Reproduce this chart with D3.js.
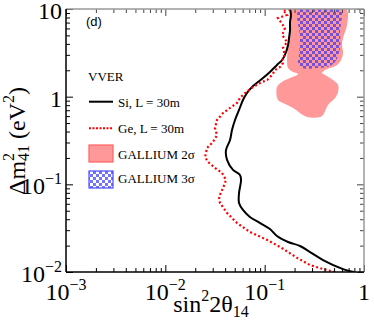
<!DOCTYPE html>
<html>
<head>
<meta charset="utf-8">
<script src="https://cdn.jsdelivr.net/npm/d3@7"></script>
<style>
body{margin:0;background:#fff;}
text{font-family:"Liberation Serif","Times New Roman",serif;}
</style>
</head>
<body>
<div id="chart"></div>
<script>
// Si, L = 30m exclusion curve (sin^2 2theta, dm2)
var siX = [0.79, 0.615, 0.387, 0.286, 0.227, 0.172, 0.133, 0.113, 0.090, 0.071, 0.0605, 0.0552, 0.0552, 0.0578, 0.0564, 0.048, 0.0418, 0.0408, 0.0448, 0.0469, 0.0503, 0.0552, 0.0605, 0.0664, 0.0746, 0.0857, 0.0962, 0.113, 0.133, 0.150, 0.160, 0.172, 0.176, 0.180, 0.180, 0.184, 0.180];
var siY = [0.010, 0.0108, 0.0137, 0.0169, 0.0198, 0.0220, 0.0257, 0.0309, 0.0362, 0.0424, 0.0510, 0.0613, 0.0796, 0.112, 0.128, 0.146, 0.190, 0.246, 0.320, 0.417, 0.542, 0.705, 0.916, 1.10, 1.29, 1.47, 1.63, 1.91, 2.30, 2.62, 2.99, 3.89, 4.67, 5.76, 7.11, 8.55, 10];

// Ge, L = 30m exclusion curve
var geX = [0.511, 0.387, 0.286, 0.212, 0.143, 0.106, 0.0712, 0.0527, 0.0418, 0.0355, 0.0347, 0.0381, 0.0408, 0.0372, 0.0316, 0.0269, 0.0251, 0.0263, 0.0302, 0.0331, 0.0316, 0.0331, 0.0381, 0.0448, 0.0527, 0.0564, 0.0634, 0.0763, 0.094, 0.106, 0.119, 0.127, 0.143, 0.153, 0.150, 0.160, 0.153, 0.168, 0.150, 0.160, 0.136, 0.168, 0.153, 0.180];
var geY = [0.010, 0.0108, 0.0120, 0.0145, 0.0193, 0.0232, 0.0286, 0.0362, 0.0471, 0.0613, 0.0717, 0.0908, 0.112, 0.135, 0.154, 0.180, 0.205, 0.260, 0.304, 0.365, 0.439, 0.542, 0.651, 0.743, 0.847, 0.966, 1.10, 1.29, 1.47, 1.55, 1.77, 2.01, 2.18, 2.42, 2.76, 2.99, 3.59, 4.20, 5.05, 6.07, 7.89, 8.55, 9.74, 10];

// GALLIUM allowed regions (outline points)
var ga2X = [0.183, 0.180, 0.172, 0.168, 0.172, 0.193, 0.217, 0.180, 0.1495, 0.133, 0.136, 0.153, 0.193, 0.267, 0.361, 0.387, 0.434, 0.511, 0.548, 0.548, 0.488, 0.405, 0.378, 0.405, 0.535, 0.601, 0.615, 0.601, 0.615, 0.674, 0.659];
var ga2Y = [10, 7.89, 3.89, 2.49, 2.12, 1.91, 1.81, 1.63, 1.47, 1.29, 0.916, 0.847, 0.743, 0.586, 0.586, 0.618, 0.804, 0.966, 1.13, 1.36, 1.55, 1.77, 1.86, 2.01, 2.30, 2.76, 3.23, 3.89, 4.67, 6.57, 10];
var ga3X = [0.222, 0.227, 0.222, 0.217, 0.238, 0.337, 0.424, 0.511, 0.574, 0.574, 0.574];
var ga3Y = [10, 4.67, 2.99, 2.42, 2.12, 2.12, 2.18, 2.49, 3.59, 5.47, 10];

var xTicks = [1e-3, 1e-2, 1e-1, 1];
var xTickBase = ["10", "10", "10", "1"];
var xTickExp = ["\u22123", "\u22122", "\u22121", ""];
var yTicks = [1e-2, 1e-1, 1, 10];
var yTickBase = ["10", "10", "1", "10"];
var yTickExp = ["\u22122", "\u22121", "", ""];

var legendLabels = ["Si, L = 30m", "Ge, L = 30m", "GALLIUM 2\u03c3", "GALLIUM 3\u03c3"];

var svgWidth = 374;
var svgHeight = 321;
var margin = {top: 9, right: 10, bottom: 49, left: 66};
var width = svgWidth - margin.left - margin.right;
var height = svgHeight - margin.top - margin.bottom;

var svg = d3.select("#chart").append("svg")
    .attr("width", svgWidth)
    .attr("height", svgHeight);

var defs = svg.append("defs");
defs.append("clipPath").attr("id", "clip")
    .append("rect").attr("width", width).attr("height", height);
var pat = defs.append("pattern").attr("id", "checks")
    .attr("patternUnits", "userSpaceOnUse")
    .attr("width", 6).attr("height", 6);
pat.append("rect").attr("width", 3).attr("height", 3).attr("fill", "#2a2aff").attr("fill-opacity", 0.65);
pat.append("rect").attr("x", 3).attr("y", 3).attr("width", 3).attr("height", 3).attr("fill", "#2a2aff").attr("fill-opacity", 0.65);

var chart = svg.append("g")
    .attr("transform", "translate(" + margin.left + "," + margin.top + ")");

var x = d3.scaleLog().domain([1e-3, 1]).range([0, width]);
var y = d3.scaleLog().domain([1e-2, 10]).range([height, 0]);

var plot = chart.append("g").attr("clip-path", "url(#clip)");

var ga2 = d3.zip(ga2X, ga2Y);
var ga3 = d3.zip(ga3X, ga3Y);

plot.append("path")
    .attr("d", d3.line().x(d => x(d[0])).y(d => y(d[1])).curve(d3.curveCatmullRomClosed)(ga2))
    .attr("fill", "#ff9999");
plot.append("path")
    .attr("d", d3.line().x(d => x(d[0])).y(d => y(d[1])).curve(d3.curveCatmullRomClosed.alpha(0.5))(ga3))
    .attr("fill", "url(#checks)");

plot.append("path")
    .attr("d", d3.line().x(d => x(d[0])).y(d => y(d[1])).curve(d3.curveCatmullRom)(d3.zip(siX, siY)))
    .attr("fill", "none")
    .attr("stroke", "#000")
    .attr("stroke-width", 2);

plot.append("path")
    .attr("d", d3.line().x(d => x(d[0])).y(d => y(d[1]))(d3.zip(geX, geY)))
    .attr("fill", "none")
    .attr("stroke", "#ff0000")
    .attr("stroke-width", 2.2)
    .attr("stroke-dasharray", "2,2.4");

// ticks
var xMinor = x.ticks().filter(v => xTicks.indexOf(v) < 0);
var yMinor = y.ticks().filter(v => yTicks.indexOf(v) < 0);

function addAxis(gen, vals, size, transform, color) {
    var g = chart.append("g")
        .attr("transform", transform)
        .call(gen.tickValues(vals).tickSize(size).tickFormat(""));
    g.select(".domain").remove();
    g.selectAll("line").attr("stroke", color).attr("stroke-width", 1);
}
addAxis(d3.axisBottom(x), xMinor, -4, "translate(0," + height + ")", "#000");
addAxis(d3.axisBottom(x), xTicks, -7, "translate(0," + height + ")", "#000");
addAxis(d3.axisTop(x), xMinor, -4, "translate(0,0)", "#444");
addAxis(d3.axisTop(x), xTicks, -7, "translate(0,0)", "#444");
addAxis(d3.axisLeft(y), yMinor, -4, "translate(0,0)", "#000");
addAxis(d3.axisLeft(y), yTicks, -7, "translate(0,0)", "#000");
addAxis(d3.axisRight(y), yMinor, -4, "translate(" + width + ",0)", "#444");
addAxis(d3.axisRight(y), yTicks, -7, "translate(" + width + ",0)", "#444");

// frame
chart.append("line").attr("x1", width).attr("x2", width).attr("y1", 0).attr("y2", height)
    .attr("stroke", "#999").attr("stroke-width", 1.5);
chart.append("line").attr("x1", 0).attr("x2", width).attr("y1", 0).attr("y2", 0)
    .attr("stroke", "#999").attr("stroke-width", 1.5);
chart.append("line").attr("x1", 0).attr("x2", 0).attr("y1", 0).attr("y2", height)
    .attr("stroke", "#000").attr("stroke-width", 1.5);
chart.append("line").attr("x1", 0).attr("x2", width).attr("y1", height).attr("y2", height)
    .attr("stroke", "#000").attr("stroke-width", 1.5);

// tick labels
xTicks.forEach(function(v, i) {
    var t = chart.append("text")
        .attr("x", x(v))
        .attr("y", height + 28)
        .attr("text-anchor", "middle")
        .style("font-size", "24px");
    t.append("tspan").text(xTickBase[i]);
    if (xTickExp[i]) t.append("tspan").attr("dy", -10).style("font-size", "16px").text(xTickExp[i]);
});
yTicks.forEach(function(v, i) {
    var t = chart.append("text")
        .attr("x", -4)
        .attr("y", y(v) + 10)
        .attr("text-anchor", "end")
        .style("font-size", "24px");
    t.append("tspan").text(yTickBase[i]);
    if (yTickExp[i]) t.append("tspan").attr("dy", -10).style("font-size", "16px").text(yTickExp[i]);
});

// axis titles
var xt = svg.append("text")
    .attr("x", 211).attr("y", 312)
    .attr("text-anchor", "middle")
    .style("font-size", "24px");
xt.append("tspan").text("sin");
xt.append("tspan").attr("dy", -11).style("font-size", "16px").text("2");
xt.append("tspan").attr("dy", 11).text("2\u03b8");
xt.append("tspan").attr("dy", 5).style("font-size", "16px").text("14");

var yt = svg.append("text")
    .attr("transform", "translate(25,141) rotate(-90)")
    .attr("text-anchor", "middle")
    .style("font-size", "24px");
yt.append("tspan").text("\u0394m");
yt.append("tspan").attr("dy", -11).style("font-size", "16px").text("2");
yt.append("tspan").attr("dx", -8).attr("dy", 15).style("font-size", "16px").text("41");
yt.append("tspan").attr("dy", -4).text(" (eV");
yt.append("tspan").attr("dy", -11).style("font-size", "16px").text("2");
yt.append("tspan").attr("dy", 11).text(")");

// panel label
svg.append("text")
    .attr("x", 86).attr("y", 25.5)
    .style("font-family", "'Liberation Sans', Arial, sans-serif")
    .style("font-size", "13px")
    .text("(d)");

// legend
svg.append("text").attr("x", 88).attr("y", 80.7).style("font-size", "13px").text("VVER");
var legend = svg.append("g");
legend.append("line").attr("x1", 89).attr("x2", 113).attr("y1", 101.7).attr("y2", 101.7)
    .attr("stroke", "#000").attr("stroke-width", 2);
legend.append("line").attr("x1", 89).attr("x2", 113).attr("y1", 128.3).attr("y2", 128.3)
    .attr("stroke", "#ff0000").attr("stroke-width", 2).attr("stroke-dasharray", "2,1.5");
legend.append("rect").attr("x", 89).attr("y", 145).attr("width", 24).attr("height", 17)
    .attr("fill", "#ff9999").attr("stroke", "#ff6262").attr("stroke-width", 1.2);
legend.append("rect").attr("x", 89).attr("y", 171).attr("width", 24).attr("height", 17)
    .attr("fill", "url(#checks)").attr("stroke", "#4a4aff").attr("stroke-width", 1.2);
var legendY = [106.7, 133, 159, 182.5];
legend.selectAll("text.lab").data(legendLabels).enter()
    .append("text").attr("class", "lab")
    .attr("x", 118)
    .attr("y", (d, i) => legendY[i])
    .style("font-size", "13px")
    .text(d => d);
</script>
</body>
</html>
